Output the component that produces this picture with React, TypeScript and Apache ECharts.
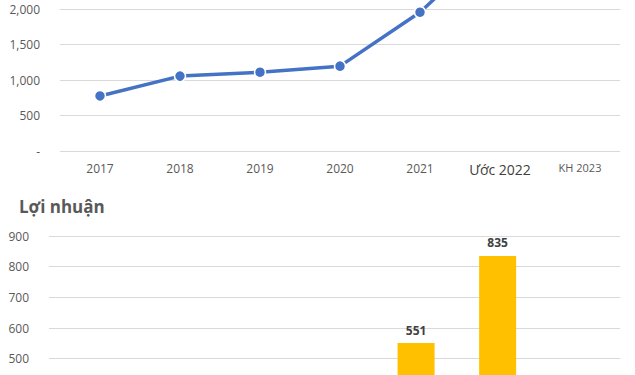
import React, { useEffect, useRef } from "react";
import * as echarts from "echarts";

const categories = ["2017", "2018", "2019", "2020", "2021", "Ước 2022", "KH 2023"];
// Top line series (values above 2,000 run off the top of the picture)
const lineValues: (number | null)[] = [775, 1055, 1110, 1195, 1955, 3000, null];
// Profit ("Lợi nhuận") bars – only 2021 and 2022 reach the visible area
const profitValues: (number | null)[] = [null, null, null, null, 551, 835, null];
const lineTicks = { min: 0, max: 2000, interval: 500 };
const barTicks = { min: 0, max: 900, interval: 100 };
const barVisibleFrom = 500; // tick labels below this lie outside the picture
const barTitle = "Lợi nhuận";

const FONT = "'Open Sans', 'Noto Sans', sans-serif";
const OFF = 80; // chart canvas is shifted up by this many pixels

export default function App() {
  const ref = useRef<HTMLDivElement>(null);
  useEffect(() => {
    const chart = echarts.init(ref.current!, null, { renderer: "svg" });
    chart.setOption({
      animation: false,
      backgroundColor: "#ffffff",
      title: {
        text: barTitle,
        left: 14,
        top: OFF + 193,
        textStyle: { fontFamily: FONT, fontSize: 17, fontWeight: "bold", color: "#595959" },
      },
      grid: [
        { left: 60, right: 15, top: OFF + 9, height: 142 },
        { left: 49, right: 15, top: OFF + 236, height: 276 },
      ],
      xAxis: [
        {
          type: "category",
          gridIndex: 0,
          data: categories,
          axisLine: { show: false },
          axisTick: { show: false },
          axisLabel: {
            interval: 0,
            margin: 11,
            fontFamily: FONT,
            fontSize: 12,
            color: "#595959",
            formatter: (v: string) => {
              if (v.startsWith("Ước")) return "{big|" + v + "}";
              if (v.startsWith("KH")) return "{small|" + v + "}";
              return v;
            },
            rich: {
              big: { fontFamily: FONT, fontSize: 14, color: "#404040" },
              small: { fontFamily: FONT, fontSize: 11, color: "#595959" },
            },
          },
        },
        {
          type: "category",
          gridIndex: 1,
          data: categories,
          axisLine: { show: false },
          axisTick: { show: false },
          axisLabel: { show: false },
        },
      ],
      yAxis: [
        {
          type: "value",
          gridIndex: 0,
          ...lineTicks,
          axisLine: { show: false },
          axisTick: { show: false },
          splitLine: { lineStyle: { color: "#d9d9d9", width: 1 } },
          axisLabel: {
            margin: 20,
            fontFamily: FONT,
            fontSize: 12,
            color: "#595959",
            formatter: (v: number) => (v === 0 ? "-" : v.toLocaleString("en-US")),
          },
        },
        {
          type: "value",
          gridIndex: 1,
          ...barTicks,
          axisLine: { show: false },
          axisTick: { show: false },
          splitLine: { lineStyle: { color: "#d9d9d9", width: 1 } },
          axisLabel: {
            margin: 20,
            fontFamily: FONT,
            fontSize: 12,
            color: "#595959",
            formatter: (v: number) => (v >= barVisibleFrom ? String(v) : ""),
          },
        },
      ],
      series: [
        {
          type: "line",
          xAxisIndex: 0,
          yAxisIndex: 0,
          data: lineValues,
          clip: false,
          symbol: "circle",
          symbolSize: 11,
          lineStyle: { color: "#4472c4", width: 3.5 },
          itemStyle: { color: "#4472c4", borderColor: "#ffffff", borderWidth: 1.5 },
        },
        {
          type: "bar",
          xAxisIndex: 1,
          yAxisIndex: 1,
          data: profitValues,
          barWidth: 37,
          itemStyle: { color: "#ffc000" },
          label: {
            show: true,
            position: "top",
            distance: 7,
            fontFamily: FONT,
            fontSize: 12,
            fontWeight: "bold",
            color: "#404040",
          },
        },
      ],
    });
    return () => chart.dispose();
  }, []);
  return (
    <div
      ref={ref}
      style={{ position: "fixed", left: 0, top: -OFF, width: 635, height: 600 }}
    />
  );
}
